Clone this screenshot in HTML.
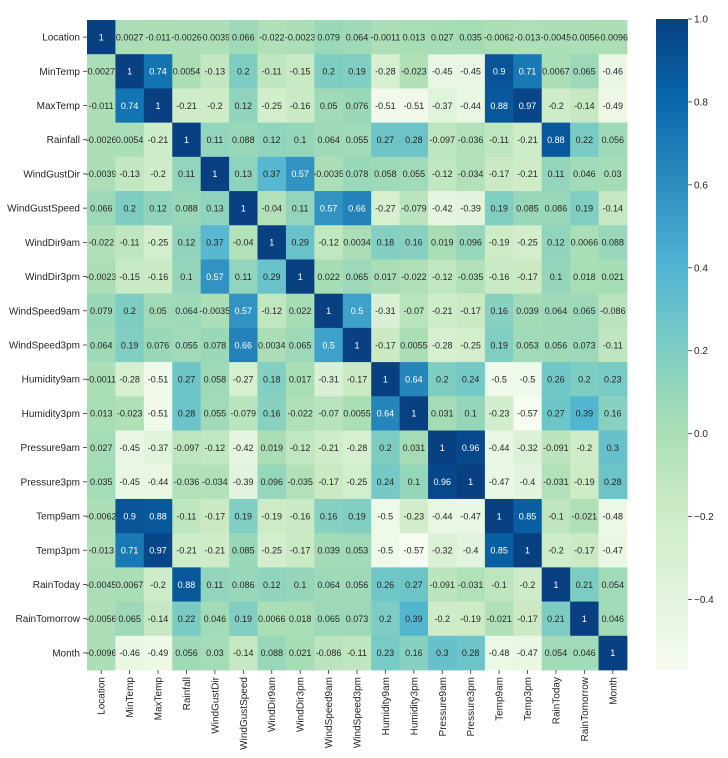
<!DOCTYPE html>
<html><head><meta charset="utf-8"><style>
body{margin:0;background:#fff;}
svg text{font-family:"Liberation Sans","DejaVu Sans",sans-serif;}
</style></head><body>
<svg id="chart" width="728" height="753" xmlns="http://www.w3.org/2000/svg">
<defs><linearGradient id="cbgrad" x1="0" y1="1" x2="0" y2="0"></linearGradient></defs>
<g id="cells"></g>
<g id="ylabels"></g>
<g id="xlabels"></g>
<g id="cbar"></g>
</svg>
<script>
const labels=["Location","MinTemp","MaxTemp","Rainfall","WindGustDir","WindGustSpeed","WindDir9am","WindDir3pm","WindSpeed9am","WindSpeed3pm","Humidity9am","Humidity3pm","Pressure9am","Pressure3pm","Temp9am","Temp3pm","RainToday","RainTomorrow","Month"];
const row0=[1,0.0027,-0.011,-0.0026,-0.0039,0.066,-0.022,-0.0023,0.079,0.064,-0.0011,0.013,0.027,0.035,-0.0062,-0.013,-0.0045,-0.0056,-0.0096];
const row1=[0.0027,1,0.74,0.0054,-0.13,0.2,-0.11,-0.15,0.2,0.19,-0.28,-0.023,-0.45,-0.45,0.9,0.71,0.0067,0.065,-0.46];
const row2=[-0.011,0.74,1,-0.21,-0.2,0.12,-0.25,-0.16,0.05,0.076,-0.51,-0.51,-0.37,-0.44,0.88,0.97,-0.2,-0.14,-0.49];
const row3=[-0.0026,0.0054,-0.21,1,0.11,0.088,0.12,0.1,0.064,0.055,0.27,0.28,-0.097,-0.036,-0.11,-0.21,0.88,0.22,0.056];
const row4=[-0.0039,-0.13,-0.2,0.11,1,0.13,0.37,0.57,-0.0035,0.078,0.058,0.055,-0.12,-0.034,-0.17,-0.21,0.11,0.046,0.03];
const row5=[0.066,0.2,0.12,0.088,0.13,1,-0.04,0.11,0.57,0.66,-0.27,-0.079,-0.42,-0.39,0.19,0.085,0.086,0.19,-0.14];
const row6=[-0.022,-0.11,-0.25,0.12,0.37,-0.04,1,0.29,-0.12,0.0034,0.18,0.16,0.019,0.096,-0.19,-0.25,0.12,0.0066,0.088];
const row7=[-0.0023,-0.15,-0.16,0.1,0.57,0.11,0.29,1,0.022,0.065,0.017,-0.022,-0.12,-0.035,-0.16,-0.17,0.1,0.018,0.021];
const row8=[0.079,0.2,0.05,0.064,-0.0035,0.57,-0.12,0.022,1,0.5,-0.31,-0.07,-0.21,-0.17,0.16,0.039,0.064,0.065,-0.086];
const row9=[0.064,0.19,0.076,0.055,0.078,0.66,0.0034,0.065,0.5,1,-0.17,0.0055,-0.28,-0.25,0.19,0.053,0.056,0.073,-0.11];
const row10=[-0.0011,-0.28,-0.51,0.27,0.058,-0.27,0.18,0.017,-0.31,-0.17,1,0.64,0.2,0.24,-0.5,-0.5,0.26,0.2,0.23];
const row11=[0.013,-0.023,-0.51,0.28,0.055,-0.079,0.16,-0.022,-0.07,0.0055,0.64,1,0.031,0.1,-0.23,-0.57,0.27,0.39,0.16];
const row12=[0.027,-0.45,-0.37,-0.097,-0.12,-0.42,0.019,-0.12,-0.21,-0.28,0.2,0.031,1,0.96,-0.44,-0.32,-0.091,-0.2,0.3];
const row13=[0.035,-0.45,-0.44,-0.036,-0.034,-0.39,0.096,-0.035,-0.17,-0.25,0.24,0.1,0.96,1,-0.47,-0.4,-0.031,-0.19,0.28];
const row14=[-0.0062,0.9,0.88,-0.11,-0.17,0.19,-0.19,-0.16,0.16,0.19,-0.5,-0.23,-0.44,-0.47,1,0.85,-0.1,-0.021,-0.48];
const row15=[-0.013,0.71,0.97,-0.21,-0.21,0.085,-0.25,-0.17,0.039,0.053,-0.5,-0.57,-0.32,-0.4,0.85,1,-0.2,-0.17,-0.47];
const row16=[-0.0045,0.0067,-0.2,0.88,0.11,0.086,0.12,0.1,0.064,0.056,0.26,0.27,-0.091,-0.031,-0.1,-0.2,1,0.21,0.054];
const row17=[-0.0056,0.065,-0.14,0.22,0.046,0.19,0.0066,0.018,0.065,0.073,0.2,0.39,-0.2,-0.19,-0.021,-0.17,0.21,1,0.046];
const row18=[-0.0096,-0.46,-0.49,0.056,0.03,-0.14,0.088,0.021,-0.086,-0.11,0.23,0.16,0.3,0.28,-0.48,-0.47,0.054,0.046,1];
const matrix=[row0,row1,row2,row3,row4,row5,row6,row7,row8,row9,row10,row11,row12,row13,row14,row15,row16,row17,row18];
const cbTicks=[1.0,0.8,0.6,0.4,0.2,0.0,-0.2,-0.4];
const vmin=-0.57, vmax=1;

const NS="http://www.w3.org/2000/svg";
const L=87,T=20,R=627,B=670;
const n=labels.length, cw=(R-L)/n, ch=(B-T)/n;
const stops=["#f7fcf0","#e0f3db","#ccebc5","#a8ddb5","#7bccc4","#4eb3d3","#2b8cbe","#0868ac","#084081"];
function hex(h){return [1,3,5].map(i=>parseInt(h.substr(i,2),16));}
function cmap(v){let t=(v-vmin)/(vmax-vmin);t=Math.max(0,Math.min(1,t));const p=t*(stops.length-1);const i=Math.min(Math.floor(p),stops.length-2);const f=p-i;const a=hex(stops[i]),b=hex(stops[i+1]);return "rgb("+a.map((c,k)=>Math.round(c+(b[k]-c)*f)).join(",")+")";}
function lum(v){let t=(v-vmin)/(vmax-vmin);return t>0.68;}
function xs(j){return L+j*cw;} function ys(i){return T+i*ch;}
function el(tag,attrs,parent){const e=document.createElementNS(NS,tag);for(const k in attrs)e.setAttribute(k,attrs[k]);parent.appendChild(e);return e;}
const cells=document.getElementById('cells');
matrix.forEach((row,i)=>row.forEach((v,j)=>{
  const r=el('rect',{x:xs(j),y:ys(i),width:cw+0.4,height:ch+0.4,fill:cmap(v)},cells);
  
  
  const t=el('text',{x:xs(j)+cw/2,y:ys(i)+ch/2+3.3,'text-anchor':'middle','font-size':'9',fill:lum(v)?'#ffffff':'#262626'},cells);
  t.textContent=String(v);
  
  
}));
const yl=document.getElementById('ylabels'),xl=document.getElementById('xlabels');
labels.forEach((lab,i)=>{
  const cy=ys(i)+ch/2;
  el('line',{x1:L-4,x2:L,y1:cy,y2:cy,stroke:'#333','stroke-width':0.8},yl);
  const t=el('text',{x:L-7,y:cy+3.5,'text-anchor':'end','font-size':'10',fill:'#262626'},yl);
  t.textContent=lab;
  
  
  const cx=xs(i)+cw/2;
  el('line',{x1:cx,x2:cx,y1:B,y2:B+4,stroke:'#333','stroke-width':0.8},xl);
  const u=el('text',{x:0,y:0,'text-anchor':'end','font-size':'10',fill:'#262626',transform:'translate('+(cx+3.5)+','+(B+7)+') rotate(-90)'},xl);
  u.textContent=lab;
  
  
});
const CX=656,CW=32,CT=19,CB=670;
const grad=document.getElementById('cbgrad');
stops.forEach((s,k)=>el('stop',{offset:(k/(stops.length-1)*100)+'%','stop-color':s},grad));
const cb=document.getElementById('cbar');
const bar=el('rect',{x:CX,y:CT,width:CW,height:CB-CT,fill:'url(#cbgrad)'},cb);


function cby(v){return CB-(v-vmin)/(vmax-vmin)*(CB-CT);}
cbTicks.forEach(v=>{
  const y=cby(v);
  el('line',{x1:CX+CW,x2:CX+CW+4,y1:y,y2:y,stroke:'#333','stroke-width':0.8},cb);
  const t=el('text',{x:CX+CW+6,y:y+3.5,'font-size':'10',fill:'#262626'},cb);
  t.textContent=v.toFixed(1).replace('-','\u2212');
  
  
});
</script>
</body></html>
